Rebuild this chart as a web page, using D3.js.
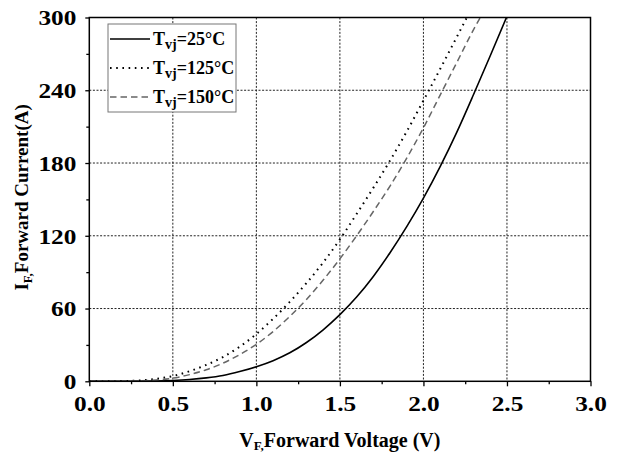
<!DOCTYPE html>
<html>
<head>
<meta charset="utf-8">
<script src="https://cdn.jsdelivr.net/npm/d3@7"></script>
<style>
  html, body { margin: 0; padding: 0; background: #fff; }
  svg { display: block; }
</style>
</head>
<body>
<svg id="chart" width="618" height="452"></svg>
<script>
// Forward characteristics of the diode at three junction temperatures
const vf25  = [0, 0.2, 0.3, 0.4, 0.5, 0.6, 0.7, 0.8, 0.9, 1.0, 1.1, 1.2, 1.3, 1.4, 1.5, 1.6, 1.7, 1.8, 1.9, 2.0, 2.1, 2.2, 2.3, 2.4, 2.5];
const if25  = [0, 0, 0.05, 0.25, 0.7, 1.5, 2.8, 4.8, 8, 12, 17, 23.5, 32, 42.5, 55, 69.5, 86.5, 106, 127.5, 151, 177, 205.5, 236.5, 268.5, 301];

const vf125 = [0, 0.2, 0.3, 0.4, 0.5, 0.6, 0.7, 0.8, 0.9, 1.0, 1.1, 1.2, 1.3, 1.4, 1.5, 1.6, 1.7, 1.8, 1.9, 2.0, 2.1, 2.2, 2.26];
const if125 = [0, 0.2, 0.7, 2, 4.3, 8.3, 13.5, 20, 28.5, 39, 51.5, 65.5, 81, 98, 117, 138, 159.5, 182, 206, 231.5, 257.5, 284, 300];

const vf150 = [0, 0.2, 0.3, 0.4, 0.5, 0.6, 0.7, 0.8, 0.9, 1.0, 1.1, 1.2, 1.3, 1.4, 1.5, 1.6, 1.7, 1.8, 1.9, 2.0, 2.1, 2.2, 2.3, 2.34];
const if150 = [0, 0.1, 0.4, 1.1, 2.6, 5.5, 9.5, 15, 22, 30.5, 41, 53.5, 67.5, 83.5, 101, 120, 140, 161, 184, 209, 236, 263, 290, 300];

const seriesTemps = ["25°C", "125°C", "150°C"];

const xTicks = [0, 0.5, 1.0, 1.5, 2.0, 2.5, 3.0];
const xMinorTicks = [0.25, 0.75, 1.25, 1.75, 2.25, 2.75];
const yTicks = [0, 60, 120, 180, 240, 300];
const yMinorTicks = [30, 90, 150, 210, 270];

const FONT = "Liberation Serif";
const LABEL_STRETCH = 1.15;

const svg = d3.select("#chart");
const plotLeft = 89.3, plotRight = 590.5, plotTop = 17.5, plotBottom = 381.3;

const x = d3.scaleLinear().domain([0, 3]).range([plotLeft, plotRight]);
const y = d3.scaleLinear().domain([0, 300]).range([plotBottom, plotTop]);

svg.append("defs").append("clipPath").attr("id", "plotClip")
  .append("rect")
  .attr("x", plotLeft).attr("y", plotTop)
  .attr("width", plotRight - plotLeft).attr("height", plotBottom - plotTop);

// grid
const grid = svg.append("g").attr("stroke", "#222").attr("stroke-width", 1).attr("stroke-dasharray", "2,1.6");
grid.selectAll("line.vg").data(xTicks.slice(1, -1)).join("line")
  .attr("x1", d => x(d)).attr("x2", d => x(d))
  .attr("y1", plotTop).attr("y2", plotBottom);
grid.selectAll("line.hg").data(yTicks.slice(1, -1)).join("line")
  .attr("x1", plotLeft).attr("x2", plotRight)
  .attr("y1", d => y(d)).attr("y2", d => y(d));

// curves
const styles = [
  { stroke: "#000", width: 1.6, dash: null },
  { stroke: "#000", width: 2, dash: "1.6,4.6" },
  { stroke: "#666", width: 1.5, dash: "6.5,4" }
];
const series = [
  vf25.map((v, i) => [v, if25[i]]),
  vf125.map((v, i) => [v, if125[i]]),
  vf150.map((v, i) => [v, if150[i]])
];
const line = d3.line().x(d => x(d[0])).y(d => y(d[1])).curve(d3.curveMonotoneX);
const curves = svg.append("g").attr("clip-path", "url(#plotClip)");
series.forEach((s, i) => {
  curves.append("path")
    .attr("d", line(s))
    .attr("fill", "none")
    .attr("stroke", styles[i].stroke)
    .attr("stroke-width", styles[i].width)
    .attr("stroke-dasharray", styles[i].dash);
});

// axes
const xAxis = svg.append("g").attr("transform", `translate(0,${plotBottom})`)
  .call(d3.axisBottom(x).tickValues(xTicks).tickSize(5).tickPadding(9.5).tickFormat(d3.format(".1f")));
const xMinor = svg.append("g").attr("transform", `translate(0,${plotBottom})`)
  .call(d3.axisBottom(x).tickValues(xMinorTicks).tickSize(3).tickFormat(""));
const yAxis = svg.append("g").attr("transform", `translate(${plotLeft},0)`)
  .call(d3.axisLeft(y).tickValues(yTicks).tickSize(4).tickPadding(13 / LABEL_STRETCH - 4));
const yMinor = svg.append("g").attr("transform", `translate(${plotLeft},0)`)
  .call(d3.axisLeft(y).tickValues(yMinorTicks).tickSize(3).tickFormat(""));

[xAxis, xMinor, yAxis, yMinor].forEach(g => {
  g.attr("font-family", FONT).attr("font-size", 22).attr("font-weight", "bold");
  g.select(".domain").remove();
  g.selectAll(".tick line").attr("stroke", "#000").attr("stroke-width", 1.3);
  g.selectAll(".tick text")
    .attr("fill", "#000")
    .attr("font-family", FONT)
    .attr("font-weight", "bold")
    .attr("font-size", 22)
    .attr("transform", `scale(${LABEL_STRETCH},1)`);
});
yAxis.selectAll(".tick text").attr("dy", "0.33em");

// frame
svg.append("rect")
  .attr("x", plotLeft).attr("y", plotTop)
  .attr("width", plotRight - plotLeft).attr("height", plotBottom - plotTop)
  .attr("fill", "none").attr("stroke", "#000").attr("stroke-width", 1.5);

// axis titles
const xTitle = svg.append("text")
  .attr("x", (plotLeft + plotRight) / 2).attr("y", 446.5)
  .attr("text-anchor", "middle")
  .attr("font-family", FONT).attr("font-weight", "bold")
  .attr("font-size", 20).attr("fill", "#000");
xTitle.append("tspan").text("V");
xTitle.append("tspan").attr("dy", 3).attr("font-size", 13).text("F,");
xTitle.append("tspan").attr("dy", -3).text("Forward Voltage (V)");

const yTitle = svg.append("text")
  .attr("transform", `translate(28,${(plotTop + plotBottom) / 2 - 2}) rotate(-90)`)
  .attr("text-anchor", "middle")
  .attr("font-family", FONT).attr("font-weight", "bold")
  .attr("font-size", 19).attr("fill", "#000");
yTitle.append("tspan").text("I");
yTitle.append("tspan").attr("dy", 4).attr("font-size", 13).text("F,");
yTitle.append("tspan").attr("dy", -4).text("Forward Current(A)");

// legend
const legend = svg.append("g");
legend.append("rect")
  .attr("x", 108).attr("y", 24).attr("width", 128).attr("height", 88)
  .attr("fill", "#fff").attr("stroke", "#777").attr("stroke-width", 1);
const rowY = [39, 68, 97];
seriesTemps.forEach((t, i) => {
  legend.append("line")
    .attr("x1", 110).attr("x2", 150)
    .attr("y1", rowY[i]).attr("y2", rowY[i])
    .attr("stroke", styles[i].stroke)
    .attr("stroke-width", styles[i].width)
    .attr("stroke-dasharray", styles[i].dash);
  const txt = legend.append("text")
    .attr("x", 153).attr("y", rowY[i] + 6)
    .attr("font-family", FONT).attr("font-weight", "bold")
    .attr("font-size", 18).attr("fill", "#000");
  txt.append("tspan").text("T");
  txt.append("tspan").attr("dy", 4).attr("font-size", 14).text("vj");
  txt.append("tspan").attr("dy", -4).text("=" + t);
});
</script>
</body>
</html>
